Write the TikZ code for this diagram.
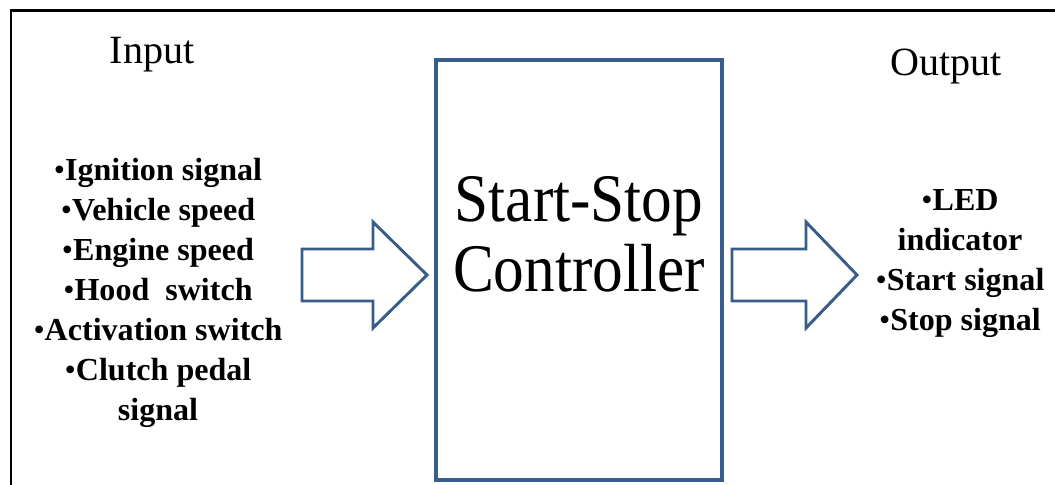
\documentclass[tikz,border=0pt]{standalone}
\usepackage{fontspec}
\setmainfont{Liberation Serif}
\newfontfamily\ctrlfont[FakeStretch=0.9]{Liberation Serif}
\usetikzlibrary{positioning}
\definecolor{ctrlblue}{RGB}{56,93,138}
\newcommand{\bul}{{\mdseries\textbullet}}

\begin{document}
\begin{tikzpicture}[
  x=0.025cm, y=-0.025cm,
  heading/.style={font=\fontsize{28.5}{30}\selectfont, inner sep=0pt},
  sigs/.style={align=center, inner sep=0pt, font=\fontsize{22.8}{28.45}\selectfont\bfseries},
  ctrl/.style={rectangle, draw=ctrlblue, line width=2.85pt, minimum width=7.15cm, minimum height=10.5cm},
  ctrltext/.style={align=center, inner sep=0pt, font=\ctrlfont\fontsize{48.4}{49.8}\selectfont},
  blockarr/.style={draw=ctrlblue, line width=2.1pt, line join=miter},
  frame/.style={draw=black, line width=2pt},
]
\useasboundingbox (0,0) rectangle (1055,485);
\draw[frame] (11,485) -- (11,10.5) -- (1055,10.5);

\node[ctrl] (box) at (579,270) {};
\node[ctrltext] (ctrl) at (579,234) {Start-Stop\\Controller};

\node[heading] (input) at (152,55) {Input};
\node[heading] (output) at (946,67) {Output};

\node[sigs] (inputs) at (158,292.5) {\bul Ignition signal\\
  \bul Vehicle speed\\ \bul Engine speed\\
  \bul Hood~ switch\\ \bul Activation switch\\
  \bul Clutch pedal\\ signal};
\node[sigs] (outputs) at (960,264) {\bul LED\\ indicator\\
  \bul Start signal\\ \bul Stop signal};

% block arrows
\draw[blockarr] (302,249) -- (373,249) -- (373,222) -- (427,275)
  -- (373,328) -- (373,301) -- (302,301) -- cycle;
\draw[blockarr] (732,249) -- (806,249) -- (806,222) -- (857,275)
  -- (806,328) -- (806,301) -- (732,301) -- cycle;
\end{tikzpicture}
\end{document}
